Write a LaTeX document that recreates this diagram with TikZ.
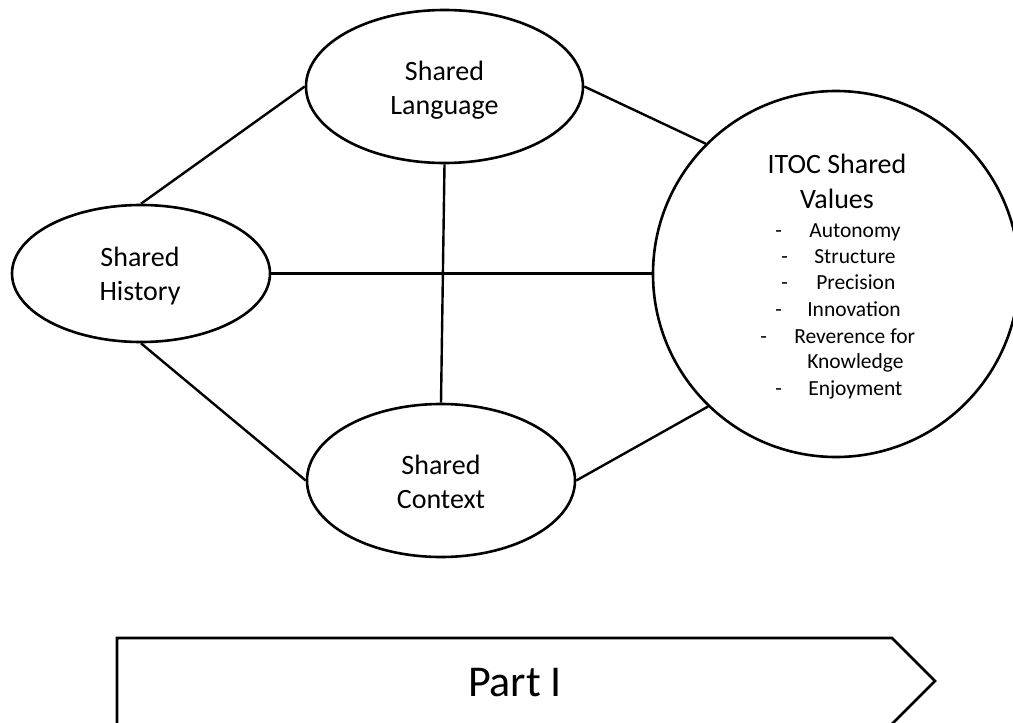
\documentclass[tikz,border=0pt]{standalone}
\usepackage{fontspec}
\setmainfont{Carlito}
\usetikzlibrary{shapes.geometric}

\begin{document}
\begin{tikzpicture}[x=1pt, y=-1pt, line width=2.6pt,
  bubble/.style={draw, ellipse, inner sep=0pt},
  bubbletext/.style={anchor=base, inner sep=0pt, align=center,
    font=\fontsize{28}{34}\selectfont},
  link/.style={draw, line width=2.4pt},
  title/.style={anchor=base, inner sep=0pt, font=\fontsize{28}{34}\selectfont},
  item/.style={anchor=base west, inner sep=0pt, font=\fontsize{21.5}{26}\selectfont},
  bigtext/.style={anchor=base, inner sep=0pt, font=\fontsize{44}{50}\selectfont}]

\useasboundingbox (0,0) rectangle (1013,723);

% the four surrounding ideas and the central circle
\node[bubble, minimum width=277pt, minimum height=153pt] (lang) at (444.5,86.5) {};
\node[bubble, minimum width=258pt, minimum height=137pt] (hist) at (141,273.5) {};
\node[bubble, minimum width=268pt, minimum height=153pt] (ctx) at (441,480.5) {};
\node[draw, circle, inner sep=0pt, minimum size=366pt] (circ) at (836,274) {};

% their labels (base anchor sits on the last line)
\node[bubbletext] (langtext) at (444.5,114) {Shared\\Language};
\node[bubbletext] (histtext) at (140,300) {Shared\\History};
\node[bubbletext] (ctxtext) at (441,508) {Shared\\Context};

% text inside the circle
\node[title] (t1) at (837,173) {ITOC Shared};
\node[title] (t2) at (837,208) {Values};

\node[item] (d1) at (774,237) {-};
\node[item] (v1) at (808,237) {Autonomy};
\node[item] (d2) at (780,263) {-};
\node[item] (v2) at (813,263) {Structure};
\node[item] (d3) at (780,289) {-};
\node[item] (v3) at (815,289) {Precision};
\node[item] (d4) at (774,316) {-};
\node[item] (v4) at (806,316) {Innovation};
\node[item] (d5) at (759,343) {-};
\node[item] (v5) at (793,343) {Reverence for};
\node[item] (v5b) at (806,368) {Knowledge};
\node[item] (d6) at (774,395) {-};
\node[item] (v6) at (807,395) {Enjoyment};

% connectors
\draw[link] (hist.north) -- (lang.west);
\draw[link] (lang.east) -- (circ.135);
\draw[link] (hist.east) -- (hist.east -| circ.west);
\draw[link] (lang.south) -- (ctx.north);
\draw[link] (hist.south) -- (ctx.west);
\draw[link] (ctx.east) -- (circ.226);

% chevron at the bottom, running off the lower edge
\draw (117,730) -- (117,638) -- (892,638) -- (935,681) -- (886,730);
\node[bigtext] (part) at (515,696) {Part I};

\end{tikzpicture}
\end{document}
